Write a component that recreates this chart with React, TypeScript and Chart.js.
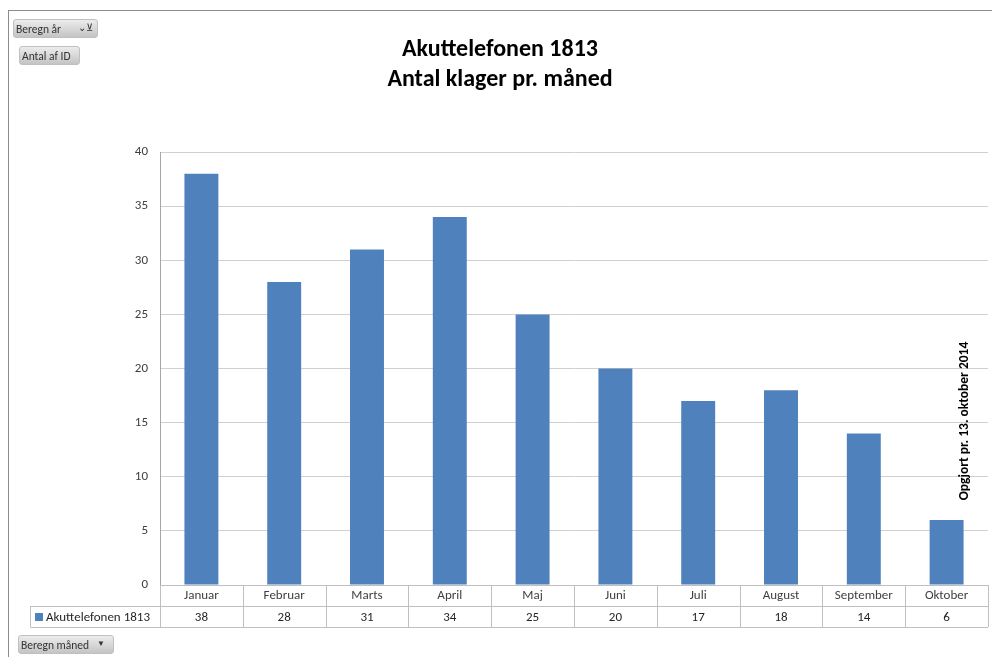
import React, { useEffect, useRef } from "react";
import { Chart, registerables } from "chart.js";

Chart.register(...registerables);

const months = ["Januar", "Februar", "Marts", "April", "Maj", "Juni", "Juli", "August", "September", "Oktober"];
const counts = [38, 28, 31, 34, 25, 20, 17, 18, 14, 6];
const seriesName = "Akuttelefonen 1813";
const titleLines = ["Akuttelefonen 1813", "Antal klager pr. måned"];
const noteText = "Opgjort pr. 13. oktober 2014";
const yTicks = [0, 5, 10, 15, 20, 25, 30, 35, 40];

const FONT = "Carlito, Lato, 'Liberation Sans', sans-serif";
const BAR = "#4F81BD";
const LINE = "#BFBFBF";

const tablePlugin = {
  id: "tablePlugin",
  afterDraw(chart: any) {
    const ctx = chart.ctx;
    const x = chart.scales.x;
    const area = chart.chartArea;
    const n = months.length;
    const bounds: number[] = [];
    for (let i = 0; i <= n; i++) {
      bounds.push(area.left + ((area.right - area.left) * i) / n);
    }
    const r0 = area.bottom;
    const r1 = r0 + 21;
    const r2 = r1 + 21;
    const legendLeft = 30.5;
    ctx.save();
    ctx.strokeStyle = LINE;
    ctx.lineWidth = 1;
    ctx.beginPath();
    ctx.moveTo(area.left, Math.round(r0) + 0.5);
    ctx.lineTo(area.right, Math.round(r0) + 0.5);
    ctx.moveTo(legendLeft, Math.round(r1) + 0.5);
    ctx.lineTo(area.right, Math.round(r1) + 0.5);
    ctx.moveTo(legendLeft, Math.round(r2) + 0.5);
    ctx.lineTo(area.right, Math.round(r2) + 0.5);
    for (let i = 0; i <= n; i++) {
      const bx = Math.round(bounds[i]) + 0.5;
      ctx.moveTo(bx, r0);
      ctx.lineTo(bx, r2);
    }
    ctx.moveTo(legendLeft, r1);
    ctx.lineTo(legendLeft, r2);
    ctx.stroke();

    ctx.fillStyle = BAR;
    ctx.fillRect(35, r1 + 7, 8, 8);
    ctx.fillStyle = "#262626";
    ctx.font = `13px ${FONT}`;
    ctx.textBaseline = "middle";
    ctx.textAlign = "left";
    ctx.fillText(seriesName, 46, (r1 + r2) / 2 + 1);

    ctx.textAlign = "center";
    counts.forEach((v, i) => {
      ctx.fillText(String(v), x.getPixelForValue(i), (r1 + r2) / 2 + 1);
    });

    ctx.fillStyle = "#000";
    ctx.font = `bold 24px ${FONT}`;
    ctx.fillText(titleLines[0], 500, 50);
    ctx.fillText(titleLines[1], 500, 80);

    ctx.translate(965, 421);
    ctx.rotate(-Math.PI / 2);
    ctx.font = `bold 13.5px ${FONT}`;
    ctx.fillStyle = "#000";
    ctx.fillText(noteText, 0, 0);
    ctx.restore();
  },
};

const btn: React.CSSProperties = {
  position: "absolute",
  boxSizing: "border-box",
  background: "linear-gradient(#ececec, #c4c4c4)",
  border: "1px solid #c0c0c0",
  borderRadius: 3,
  font: `11.5px ${FONT}`,
  color: "#333",
  display: "flex",
  alignItems: "center",
  paddingLeft: 2,
};

export default function App() {
  const ref = useRef<HTMLCanvasElement>(null);
  useEffect(() => {
    const chart = new Chart(ref.current!, {
      type: "bar",
      data: {
        labels: months,
        datasets: [
          {
            label: seriesName,
            data: counts,
            backgroundColor: BAR,
            barPercentage: 0.41,
            categoryPercentage: 1,
          },
        ],
      },
      options: {
        animation: false,
        responsive: false,
        devicePixelRatio: 1,
        layout: { padding: { top: 152, right: 4, left: 0, bottom: 0 } },
        plugins: { legend: { display: false }, tooltip: { enabled: false }, title: { display: false } },
        scales: {
          x: {
            grid: { display: false, drawTicks: false },
            border: { display: true, color: LINE },
            ticks: { color: "#404040", font: { family: FONT, size: 13 }, padding: 3, maxRotation: 0, autoSkip: false },
            afterFit(scale: any) {
              scale.height = 72;
            },
          },
          y: {
            min: 0,
            max: 40,
            afterBuildTicks(scale: any) {
              scale.ticks = yTicks.map((v) => ({ value: v }));
            },
            grid: { color: "#D0D0D0", drawTicks: false },
            border: { display: true, color: "#A6A6A6" },
            ticks: { color: "#404040", font: { family: FONT, size: 13 }, padding: 12 },
            afterFit(scale: any) {
              scale.width = 160;
            },
          },
        },
      },
      plugins: [tablePlugin],
    });
    return () => chart.destroy();
  }, []);

  return (
    <div style={{ position: "fixed", left: 0, top: 0, width: 992, height: 657, background: "#fff", overflow: "hidden" }}>
      <canvas ref={ref} width={992} height={657} style={{ position: "absolute", left: 0, top: 0 }} />
      <div style={{ position: "absolute", left: 8, top: 10, width: 990, height: 660, borderLeft: "1px solid #8c8c8c", borderTop: "1px solid #8c8c8c" }} />
      <div style={{ ...btn, left: 13, top: 19, width: 85, height: 19 }}>
        Beregn år
        <span style={{ position: "absolute", right: 4, top: 1, fontSize: 10 }}>⌄⊻</span>
      </div>
      <div style={{ ...btn, left: 19, top: 46, width: 61, height: 19 }}>Antal af ID</div>
      <div style={{ ...btn, left: 18, top: 635, width: 96, height: 19 }}>
        Beregn måned
        <span style={{ position: "absolute", right: 8, top: 2, fontSize: 8 }}>▼</span>
      </div>
    </div>
  );
}
